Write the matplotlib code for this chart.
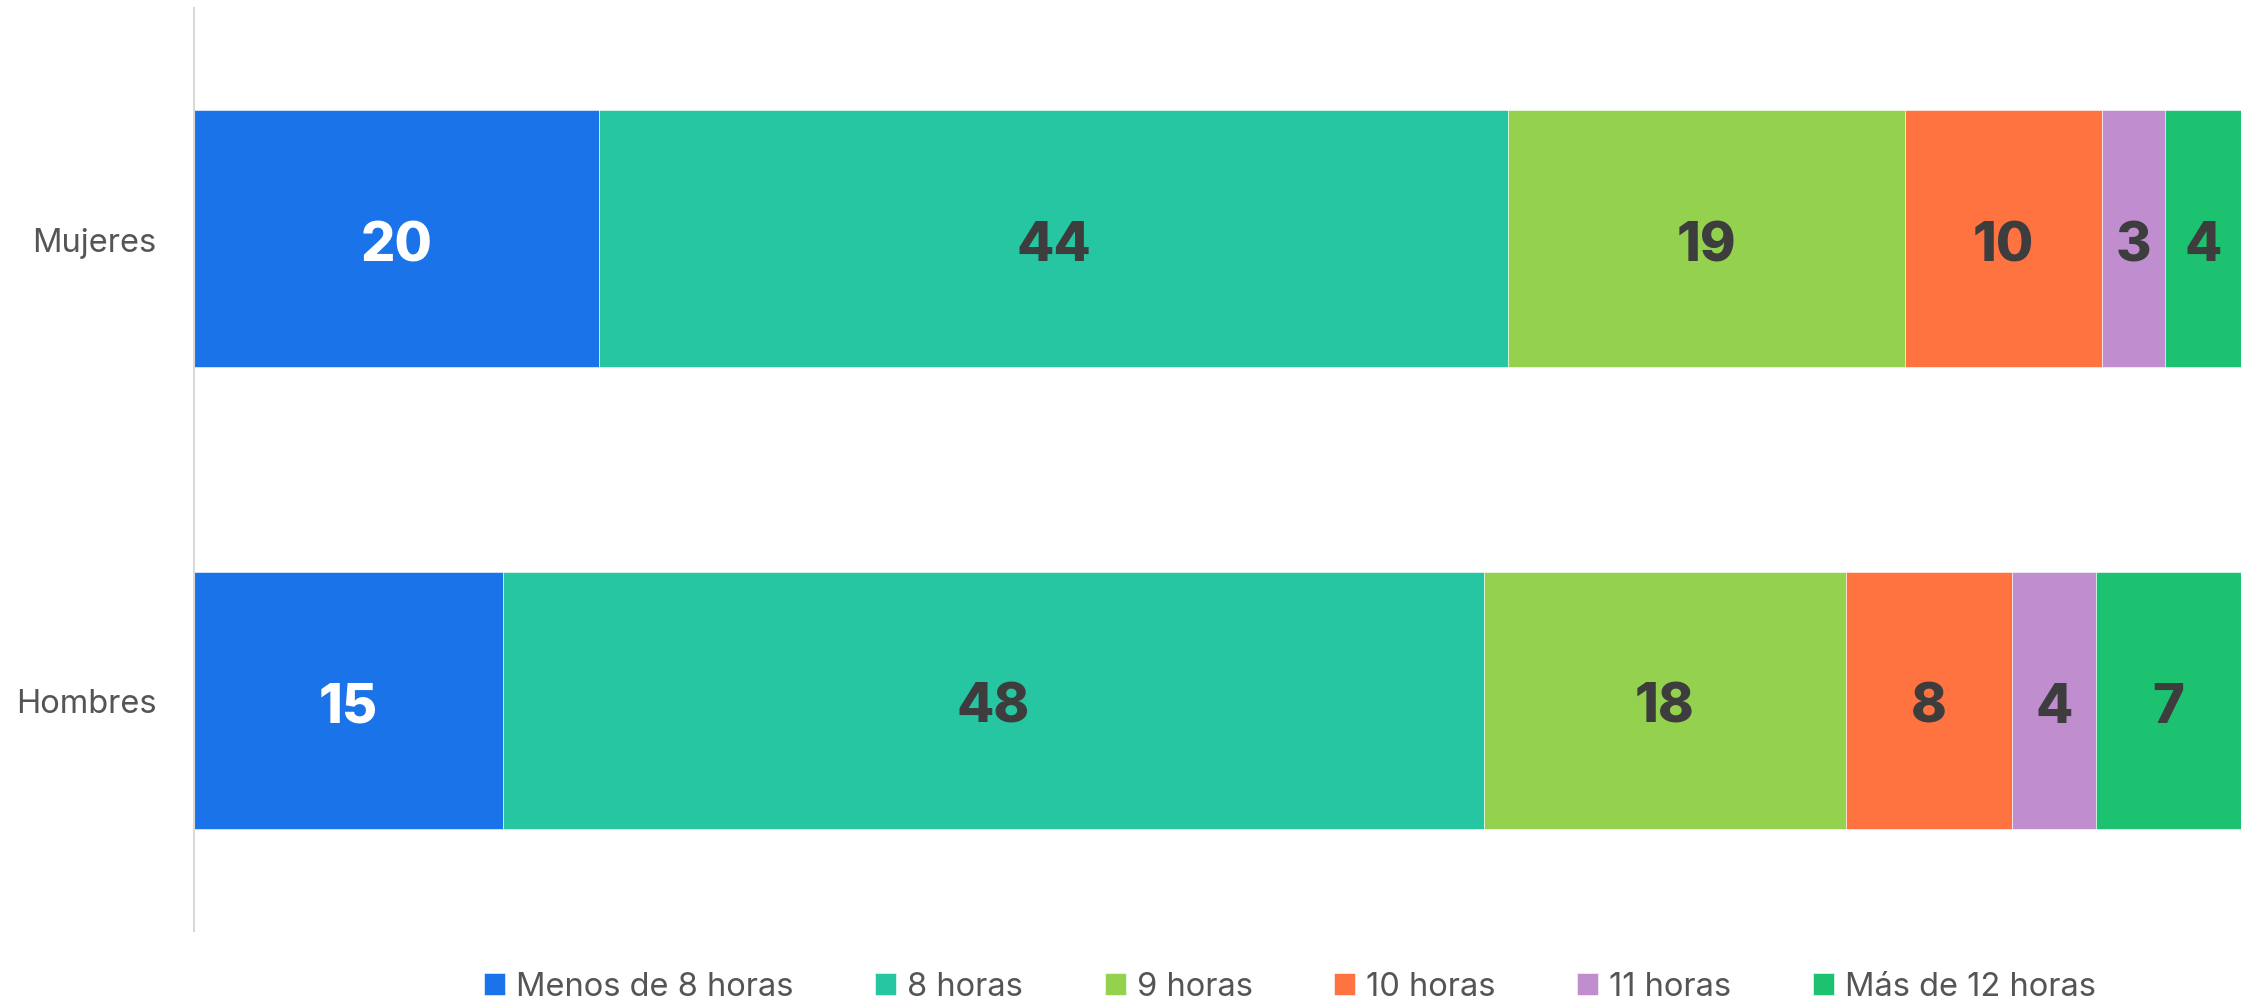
import matplotlib.pyplot as plt
import numpy as np

plt.rcParams['font.family'] = ['Inter', 'DejaVu Sans']

groups = ["Mujeres", "Hombres"]
series = ["Menos de 8 horas", "8 horas", "9 horas", "10 horas", "11 horas", "Más de 12 horas"]
colors = ["#1a73e8", "#26c6a2", "#93d14f", "#ff7340", "#c08ecf", "#1dc270"]
mujeres = [19.8, 44.4, 19.4, 9.6, 3.1, 3.7]
hombres = [15.1, 47.9, 17.7, 8.1, 4.1, 7.1]
labels_m = [20, 44, 19, 10, 3, 4]
labels_h = [15, 48, 18, 8, 4, 7]

vals = np.array([mujeres, hombres])
labs = np.array([labels_m, labels_h])

fig = plt.figure(figsize=(22.51, 10.03), dpi=100)
ax = fig.add_axes([194/2251, 1-932/1003, (2241-194)/2251, (932-9)/1003])

y = np.arange(len(groups))
left = np.zeros(len(groups))
for i, name in enumerate(series):
    bars = ax.barh(y, vals[:, i], left=left, height=0.557, color=colors[i],
                   label=name, edgecolor="white", linewidth=0.4)
    for j, b in enumerate(bars):
        cx = left[j] + vals[j, i] / 2
        tc = "white" if i == 0 else "#3d3d3d"
        ax.text(cx, y[j] + 0.003, str(labs[j, i]), ha="center", va="center_baseline",
                fontsize=39, fontweight="heavy", color=tc)
    left += vals[:, i]

ax.set_xlim(0, 100)
ax.set_ylim(1.5, -0.5)
ax.set_yticks(y)
ax.set_yticklabels(groups, fontsize=23.5, color="#555555")
ax.tick_params(axis="y", length=0, pad=27)
ax.set_xticks([])
for s in ["top", "right", "bottom"]:
    ax.spines[s].set_visible(False)
ax.spines["left"].set_color("#d9d9d9")
ax.spines["left"].set_linewidth(1.5)

fig.legend(loc="center", bbox_to_anchor=(1290/2251, 1-988/1003), ncol=6,
           frameon=False, fontsize=23.5, handlelength=0.65, handleheight=0.65,
           handletextpad=0.33, columnspacing=2.5, labelcolor="#555555")

fig.savefig("out.png", dpi=100)
